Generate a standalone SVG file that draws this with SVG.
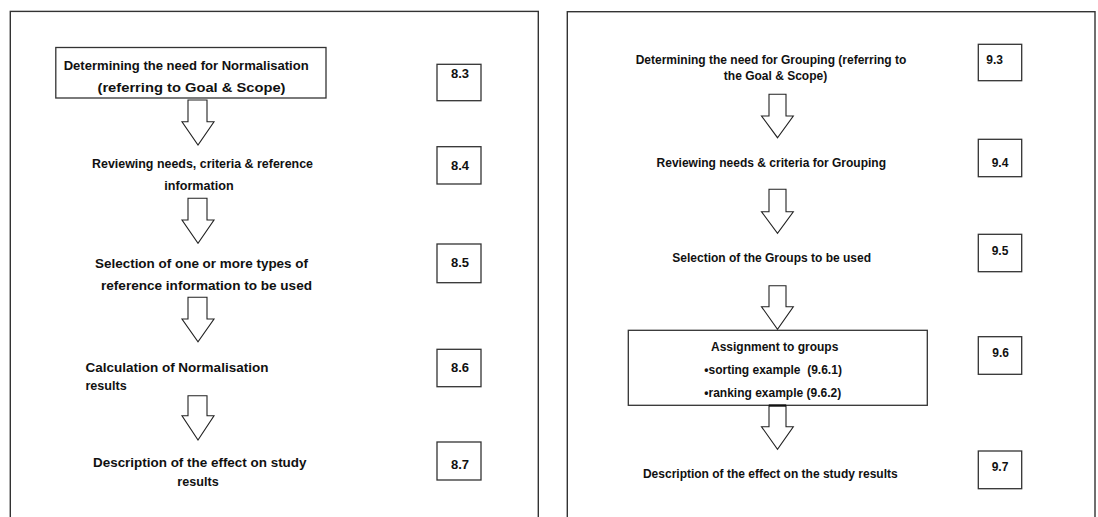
<svg xmlns="http://www.w3.org/2000/svg" width="1098" height="517" viewBox="0 0 1098 517">
  <style>
    .frame { fill: none; stroke: #333; stroke-width: 1.4; }
    .box { fill: #fff; stroke: #333; stroke-width: 1.3; }
    .arrow { fill: #fff; stroke: #222; stroke-width: 1.1; stroke-linejoin: miter; }
    text { font-family: "Liberation Sans", Arial, sans-serif; font-weight: bold; fill: #111; }
    .lbl { font-size: 12px; }
    .lblL { font-size: 12.6px; }
    .num { font-size: 13px; text-anchor: middle; }
    .numR { font-size: 12px; text-anchor: middle; }
    .mid { text-anchor: middle; }
  </style>
  <rect width="1098" height="517" fill="#fff"/>

  <!-- Normalisation procedure panel -->
  <g id="panel-normalisation">
    <rect class="frame" x="10.3" y="11.4" width="528" height="520"/>
  </g>
  <g id="n-step-1">
    <rect class="box" x="55.8" y="47.5" width="270.2" height="50.5"/>
    <text class="lblL" x="63.7" y="70" textLength="245" lengthAdjust="spacingAndGlyphs">Determining the need for Normalisation</text>
    <text class="lblL" x="97.5" y="91.5" textLength="188" lengthAdjust="spacingAndGlyphs">(referring to Goal &amp; Scope)</text>
  </g>
  <g id="n-ref-8-3"><rect class="box" x="437" y="64.3" width="44" height="36.4"/><text class="num" x="460" y="78">8.3</text></g>
  <g id="n-step-2">
    <text class="lblL" x="92" y="168" textLength="221" lengthAdjust="spacingAndGlyphs">Reviewing needs, criteria &amp; reference</text>
    <text class="lblL mid" x="199" y="189.8">information</text>
  </g>
  <g id="n-ref-8-4"><rect class="box" x="437" y="146.7" width="44" height="37.3"/><text class="num" x="460" y="169.5">8.4</text></g>
  <g id="n-step-3">
    <text class="lblL" x="95" y="267.8" textLength="213" lengthAdjust="spacingAndGlyphs">Selection of one or more types of</text>
    <text class="lblL" x="101" y="290.2" textLength="211" lengthAdjust="spacingAndGlyphs">reference information to be used</text>
  </g>
  <g id="n-ref-8-5"><rect class="box" x="437" y="244" width="44" height="38.7"/><text class="num" x="460" y="266.6">8.5</text></g>
  <g id="n-step-4">
    <text class="lblL" x="85.4" y="372.2" textLength="183" lengthAdjust="spacingAndGlyphs">Calculation of Normalisation</text>
    <text class="lblL" x="85.4" y="389.5">results</text>
  </g>
  <g id="n-ref-8-6"><rect class="box" x="437" y="349.3" width="44" height="37.4"/><text class="num" x="460" y="372">8.6</text></g>
  <g id="n-step-5">
    <text class="lblL" x="93" y="466.8" textLength="213.5" lengthAdjust="spacingAndGlyphs">Description of the effect on study</text>
    <text class="lblL mid" x="198" y="485.5">results</text>
  </g>
  <g id="n-ref-8-7"><rect class="box" x="437" y="442" width="44" height="38"/><text class="num" x="460" y="468.6">8.7</text></g>

  <!-- Grouping procedure panel -->
  <g id="panel-grouping">
    <rect class="frame" x="567.3" y="11.7" width="527.7" height="520"/>
  </g>
  <g id="g-step-1">
    <text class="lbl mid" x="771" y="64.2">Determining the need for Grouping (referring to</text>
    <text class="lbl mid" x="775.5" y="79.9">the Goal &amp; Scope)</text>
  </g>
  <g id="g-ref-9-3"><rect class="box" x="978.3" y="44.3" width="43.4" height="36.4"/><text class="numR" x="994.7" y="64.2">9.3</text></g>
  <g id="g-step-2">
    <text class="lbl mid" x="771.3" y="166.9">Reviewing needs &amp; criteria for Grouping</text>
  </g>
  <g id="g-ref-9-4"><rect class="box" x="978.3" y="139.3" width="43.4" height="37.4"/><text class="numR" x="1000" y="166.9">9.4</text></g>
  <g id="g-step-3">
    <text class="lbl mid" x="771.7" y="261.5">Selection of the Groups to be used</text>
  </g>
  <g id="g-ref-9-5"><rect class="box" x="978.3" y="234.3" width="43.4" height="37.4"/><text class="numR" x="1000" y="254.5">9.5</text></g>
  <g id="g-step-4">
    <rect class="box" x="628.3" y="330.3" width="299" height="75"/>
    <text class="lbl mid" x="774.7" y="350.9">Assignment to groups</text>
    <text class="lbl" x="704.3" y="373.5" xml:space="preserve">•sorting example  (9.6.1)</text>
    <text class="lbl" x="704.3" y="396.9">•ranking example (9.6.2)</text>
  </g>
  <g id="g-ref-9-6"><rect class="box" x="978.3" y="336.7" width="43.4" height="37.6"/><text class="numR" x="1000.7" y="356.9">9.6</text></g>
  <g id="g-step-5">
    <text class="lbl mid" x="770.3" y="478.2">Description of the effect on the study results</text>
  </g>
  <g id="g-ref-9-7"><rect class="box" x="978.3" y="451" width="43.4" height="37.7"/><text class="numR" x="1000" y="470.9">9.7</text></g>

  <!-- block arrows between steps -->
  <g id="connectors">
    <path class="arrow" d="M188,100 H207 V121.7 H214 L198,145 L182,121.7 H188 Z"/>
    <path class="arrow" d="M188,198.3 H207 V220 H214 L198,243.3 L182,220 H188 Z"/>
    <path class="arrow" d="M188,297.3 H207 V319 H214 L198,341.7 L182,319 H188 Z"/>
    <path class="arrow" d="M188,395.7 H207 V415.7 H214 L198,440 L182,415.7 H188 Z"/>
    <path class="arrow" d="M769,94.3 H786 V116 H793.3 L777.5,137.7 L761.5,116 H769 Z"/>
    <path class="arrow" d="M769,189.3 H786 V211.7 H793.3 L777.5,233.3 L761.5,211.7 H769 Z"/>
    <path class="arrow" d="M769,285.7 H786 V306.7 H793.3 L777.5,329.3 L761.5,306.7 H769 Z"/>
    <path class="arrow" d="M769,405.3 H786 V426.7 H793.3 L777.5,449.3 L761.5,426.7 H769 Z"/>
    <line x1="769" y1="405.6" x2="786" y2="405.6" stroke="#111" stroke-width="2.2"/>
  </g>
</svg>
